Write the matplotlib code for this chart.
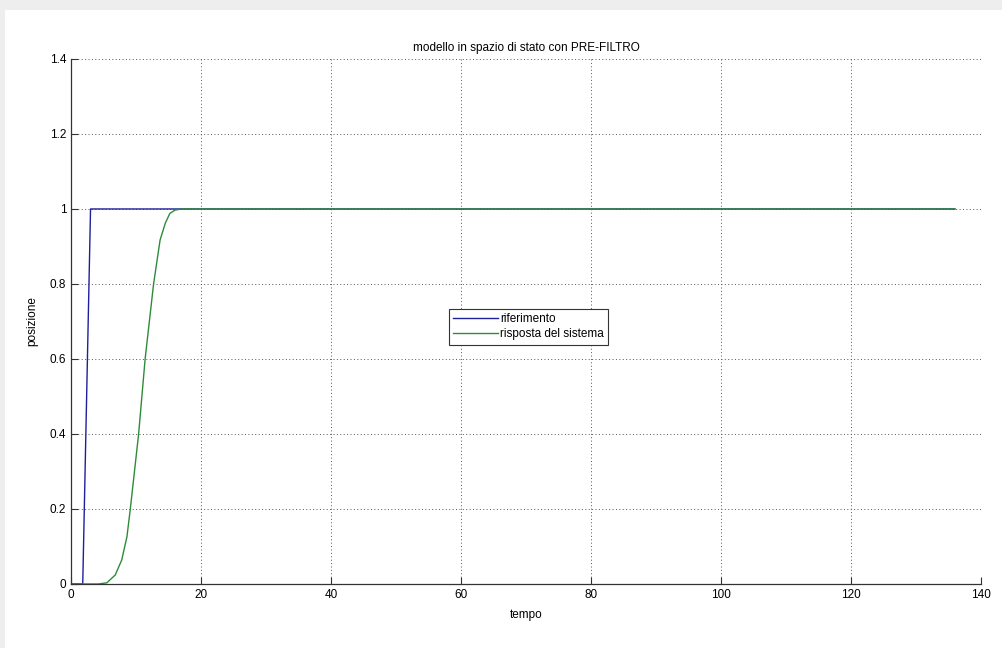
import matplotlib.pyplot as plt
from matplotlib.patches import Rectangle

plt.rcParams['font.family'] = ['Liberation Sans Narrow', 'Liberation Sans', 'DejaVu Sans']

# reference step and system response
tempo_rif = [0, 1.8, 3.0, 136]
riferimento = [0, 0, 1, 1]

tempo_out = [0, 4.2, 5.5, 6.8, 7.8, 8.6, 9.1, 10.4, 11.4, 12.7, 13.7, 14.5, 15.2, 16.0, 17.0, 136]
risposta = [0, 0, 0.003, 0.024, 0.064, 0.126, 0.197, 0.4, 0.6, 0.8, 0.917, 0.962, 0.988, 0.997, 1.0, 1.0]

xticks = [0, 20, 40, 60, 80, 100, 120, 140]
yticks = [0, 0.2, 0.4, 0.6, 0.8, 1, 1.2, 1.4]
ytick_labels = ['0', '0.2', '0.4', '0.6', '0.8', '1', '1.2', '1.4']

fig = plt.figure(figsize=(10.02, 6.48), dpi=100, facecolor='#eeeeee')
fig.patches.append(Rectangle((5 / 1002, 0), 1, 638 / 648, transform=fig.transFigure,
                             facecolor='white', edgecolor='none', zorder=-10))

ax = fig.add_axes([0.0709, 0.0988, 0.908, 0.8102])
ax.plot(tempo_rif, riferimento, color='#1f1f9c', lw=1.0, label='riferimento')
ax.plot(tempo_out, risposta, color='#2e8b3a', lw=1.0, label='risposta del sistema')

ax.set_xlim(0, 140)
ax.set_ylim(0, 1.4)
ax.set_xticks(xticks)
ax.set_yticks(yticks)
ax.set_yticklabels(ytick_labels)
ax.tick_params(direction='in', length=5, labelsize=8.5, width=0.8, color='#333333')
ax.grid(True, linestyle=(0, (1, 2.5)), color='#555555', lw=0.7)

for side in ['top', 'right']:
    ax.spines[side].set_visible(False)
for side in ['left', 'bottom']:
    ax.spines[side].set_linewidth(0.9)
    ax.spines[side].set_color('#333333')

ax.set_title('modello in spazio di stato con PRE-FILTRO', fontsize=8.5, pad=6)
ax.set_xlabel('tempo', fontsize=8.5, labelpad=6)
ax.set_ylabel('posizione', fontsize=8.5, labelpad=8)

leg = ax.legend(loc='center', bbox_to_anchor=(0.503, 0.49), fontsize=8.5,
                fancybox=False, framealpha=1, edgecolor='#333333',
                handlelength=3.8, handletextpad=0.2, borderpad=0.35, labelspacing=0.3)
leg.get_frame().set_linewidth(0.8)

plt.savefig('out.png', dpi=100, facecolor=fig.get_facecolor())
